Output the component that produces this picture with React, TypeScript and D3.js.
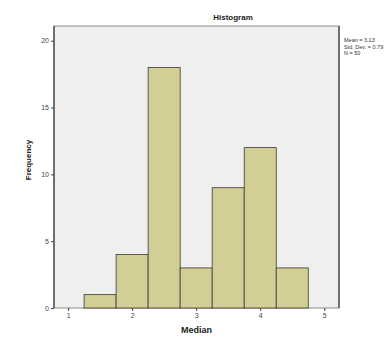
import React, { useEffect, useRef } from 'react';
import * as d3 from 'd3';

// histogram bins (lower edge, upper edge) and counts
const binStarts = [1.25, 1.75, 2.25, 2.75, 3.25, 3.75, 4.25];
const binWidth = 0.5;
const counts = [1, 4, 18, 3, 9, 12, 3];
const xTicks = [1, 2, 3, 4, 5];
const yTicks = [0, 5, 10, 15, 20];
const legendLines = ['Mean = 3.13', 'Std. Dev. = 0.79', 'N = 50'];

const App = () => {
  const svgRef = useRef<SVGSVGElement>(null);
  const width = 392;
  const height = 338;

  useEffect(() => {
    const svg = d3.select(svgRef.current);
    svg.selectAll('*').remove();

    const plot = { left: 54, right: 339, top: 26, bottom: 308 };
    const font = 'Arial, "Liberation Sans", sans-serif';

    const x = d3.scaleLinear().domain([0.78, 5.23]).range([plot.left, plot.right]);
    const y = d3.scaleLinear().domain([0, 21.1]).range([plot.bottom, plot.top]);

    svg.append('rect')
      .attr('width', width)
      .attr('height', height)
      .attr('fill', '#ffffff');

    // plot background
    svg.append('rect')
      .attr('x', plot.left)
      .attr('y', plot.top)
      .attr('width', plot.right - plot.left)
      .attr('height', plot.bottom - plot.top)
      .attr('fill', '#efefef')
      .attr('stroke', '#8a8a8a')
      .attr('stroke-width', 1);

    // bars
    const data = binStarts.map((s, i) => ({ x0: s, x1: s + binWidth, n: counts[i] }));
    svg.selectAll('.bar')
      .data(data)
      .enter().append('rect')
      .attr('class', 'bar')
      .attr('x', d => x(d.x0))
      .attr('y', d => y(d.n))
      .attr('width', d => x(d.x1) - x(d.x0))
      .attr('height', d => y(0) - y(d.n))
      .attr('fill', '#d3ce95')
      .attr('stroke', '#3a3a2a')
      .attr('stroke-width', 0.8);

    // left and right frame lines are darker
    svg.append('line')
      .attr('x1', plot.left).attr('x2', plot.left)
      .attr('y1', plot.top).attr('y2', plot.bottom)
      .attr('stroke', '#444').attr('stroke-width', 1.3);
    svg.append('line')
      .attr('x1', plot.right).attr('x2', plot.right)
      .attr('y1', plot.top).attr('y2', plot.bottom)
      .attr('stroke', '#444').attr('stroke-width', 1.3);

    // y axis
    const yAxis = svg.append('g')
      .attr('transform', `translate(${plot.left},0)`)
      .call(d3.axisLeft(y).tickValues(yTicks).tickSize(3).tickPadding(2));
    yAxis.select('.domain').remove();
    yAxis.selectAll('line').attr('stroke', '#444');
    yAxis.selectAll('text')
      .style('font-family', font)
      .style('font-size', '7px')
      .style('fill', '#444');

    // x axis
    const xAxis = svg.append('g')
      .attr('transform', `translate(0,${plot.bottom})`)
      .call(d3.axisBottom(x).tickValues(xTicks).tickFormat(d3.format('d')).tickSize(3).tickPadding(2));
    xAxis.select('.domain').remove();
    xAxis.selectAll('line').attr('stroke', '#444');
    xAxis.selectAll('text')
      .style('font-family', font)
      .style('font-size', '7px')
      .style('fill', '#444');

    // axis titles
    svg.append('text')
      .attr('x', (plot.left + plot.right) / 2)
      .attr('y', 333)
      .attr('text-anchor', 'middle')
      .style('font-family', font)
      .style('font-size', '9px')
      .style('font-weight', 'bold')
      .style('fill', '#222')
      .text('Median');

    svg.append('text')
      .attr('transform', 'rotate(-90)')
      .attr('x', -160)
      .attr('y', 31)
      .attr('text-anchor', 'middle')
      .style('font-family', font)
      .style('font-size', '8px')
      .style('font-weight', 'bold')
      .style('fill', '#222')
      .text('Frequency');

    // chart title
    svg.append('text')
      .attr('x', 233)
      .attr('y', 20)
      .attr('text-anchor', 'middle')
      .style('font-family', font)
      .style('font-size', '8px')
      .style('font-weight', 'bold')
      .style('fill', '#222')
      .text('Histogram');

    // summary statistics
    svg.append('g')
      .selectAll('text')
      .data(legendLines)
      .enter().append('text')
      .attr('x', 344)
      .attr('y', (d, i) => 42 + i * 6.5)
      .style('font-family', font)
      .style('font-size', '5.5px')
      .style('fill', '#333')
      .text(d => d);
  }, []);

  return (
    <svg
      ref={svgRef}
      width={width}
      height={height}
      style={{ position: 'absolute', left: 0, top: 0, display: 'block' }}
    ></svg>
  );
};

export default App;
